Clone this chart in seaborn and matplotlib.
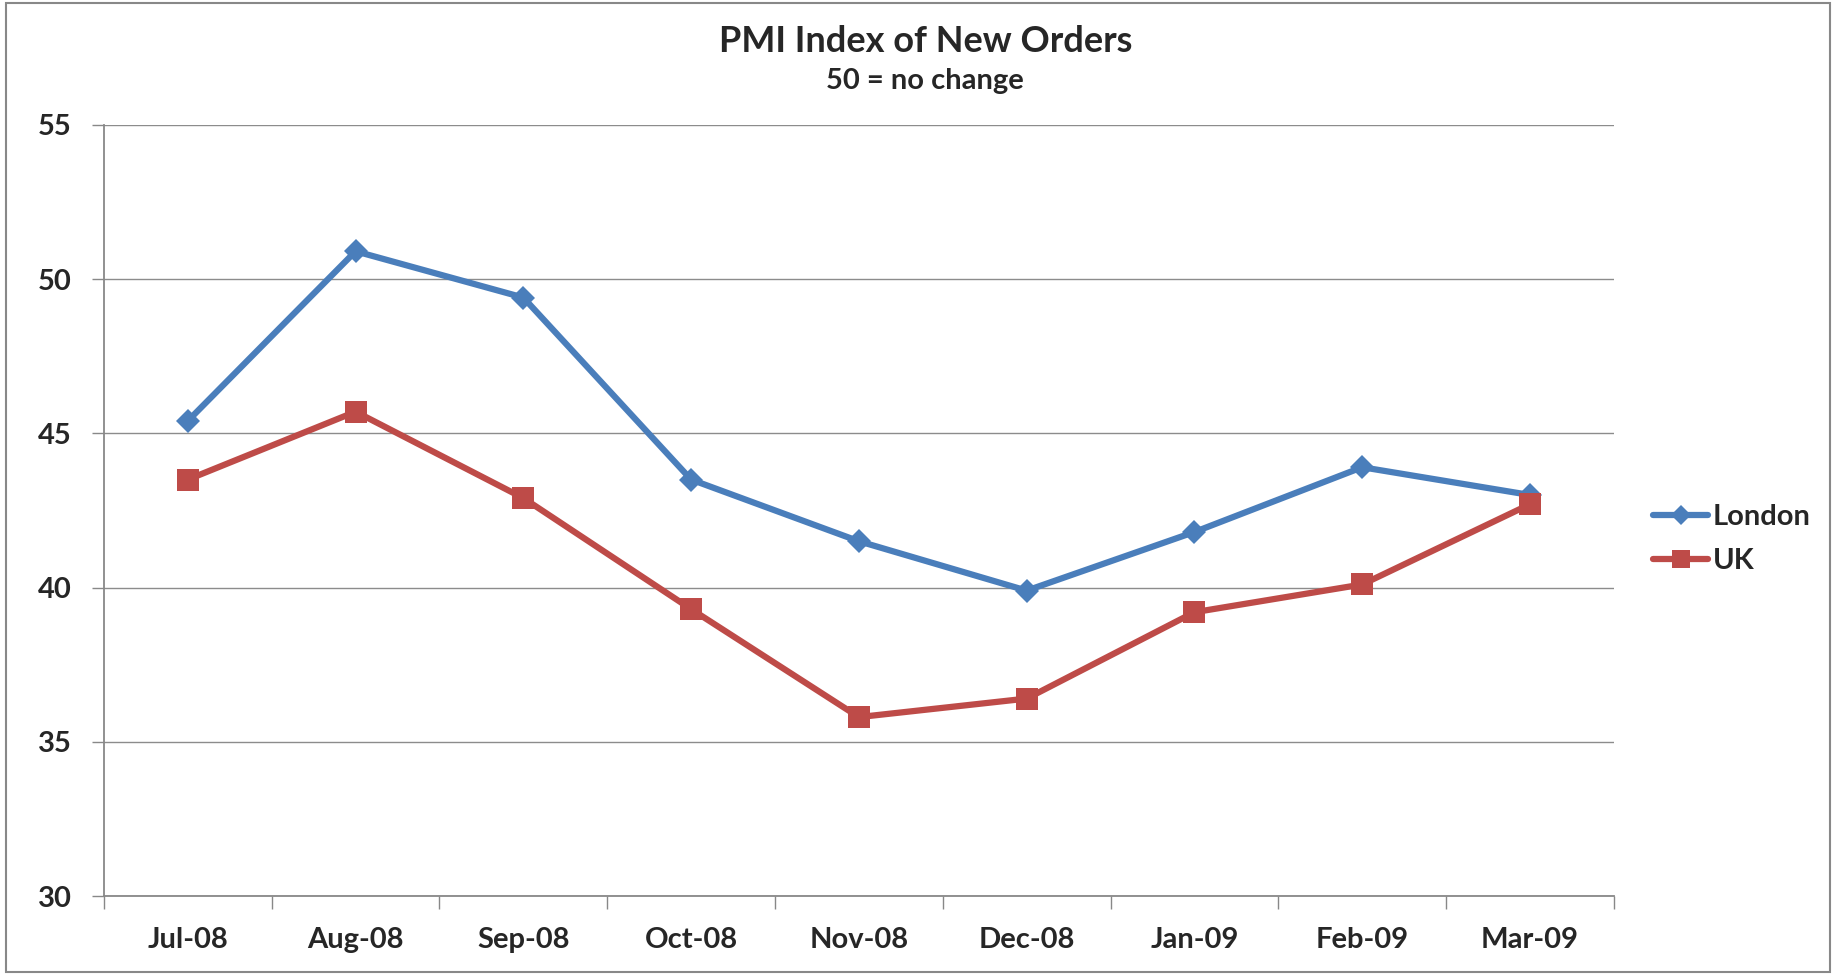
import pandas as pd
import matplotlib.pyplot as plt
import seaborn as sns
from matplotlib.lines import Line2D

###############################################################################

months = ['Jul-08', 'Aug-08', 'Sep-08', 'Oct-08', 'Nov-08',
          'Dec-08', 'Jan-09', 'Feb-09', 'Mar-09']
london = [45.4, 50.9, 49.4, 43.5, 41.5, 39.9, 41.8, 43.9, 43.0]
uk = [43.5, 45.7, 42.9, 39.3, 35.8, 36.4, 39.2, 40.1, 42.7]
y_ticks = [30, 35, 40, 45, 50, 55]

###############################################################################

sns.set_theme(style='white')
plt.rcParams['font.family'] = ['Lato', 'DejaVu Sans']

df = pd.DataFrame({
    'month': months * 2,
    'value': london + uk,
    'series': ['London'] * len(months) + ['UK'] * len(months),
})

colors = {'London': '#4A7EBB', 'UK': '#BE4B48'}

fig = plt.figure(figsize=(18.36, 9.75), dpi=100)
ax = fig.add_axes([0.0566, 0.081, 0.8224, 0.791])

sns.lineplot(
    data=df, x='month', y='value', hue='series', style='series',
    palette=colors,
    markers={'London': 'D', 'UK': 's'},
    dashes=False, sort=False, linewidth=4.5,
    markeredgewidth=0, ax=ax, legend=False)

# marker sizes differ per series
for line, ms in zip(ax.get_lines(), [12, 16]):
    line.set_markersize(ms)

ax.set_xlim(-0.5, len(months) - 0.5)
ax.set_ylim(30, 55)
ax.set_yticks(y_ticks)
ax.set_yticklabels([str(t) for t in y_ticks], fontsize=21, fontweight='bold')
ax.set_xticks(range(len(months)))
ax.set_xticklabels(months, fontsize=21, fontweight='bold')
ax.set_xticks([i - 0.5 for i in range(len(months) + 1)], minor=True)
ax.tick_params(axis='x', which='major', length=0, pad=22)
ax.tick_params(axis='x', which='minor', length=9, color='#888888', width=1, direction='out', bottom=True)
ax.tick_params(axis='y', length=9, color='#888888', width=1, direction='out', left=True, pad=14)
ax.set_xlabel('')
ax.set_ylabel('')

ax.yaxis.grid(True, color='#8c8c8c', linewidth=1)
ax.set_axisbelow(True)
for side in ['top', 'right']:
    ax.spines[side].set_visible(False)
for side in ['left', 'bottom']:
    ax.spines[side].set_color('#888888')
    ax.spines[side].set_linewidth(1.3)

# legend
handles = [
    Line2D([], [], color=colors['London'], marker='D', markersize=10, linewidth=4.5, markeredgewidth=0),
    Line2D([], [], color=colors['UK'], marker='s', markersize=13, linewidth=4.5, markeredgewidth=0),
]
fig.legend(handles, ['London', 'UK'], loc='center left', bbox_to_anchor=(0.886, 0.447),
           frameon=False, prop={'size': 21, 'weight': 'bold'}, handlelength=1.9,
           handletextpad=0.15, labelspacing=0.6)

fig.text(0.504, 0.957, 'PMI Index of New Orders', ha='center', va='center',
         fontsize=26, fontweight='bold')
fig.text(0.504, 0.917, '50 = no change', ha='center', va='center',
         fontsize=21, fontweight='bold')

# chart area border
fig.patches.append(plt.Rectangle((0.003, 0.003), 0.994, 0.994, transform=fig.transFigure,
                                 fill=False, edgecolor='#888888', linewidth=1.5))

fig.savefig('out.png', dpi=100)
plt.close(fig)
